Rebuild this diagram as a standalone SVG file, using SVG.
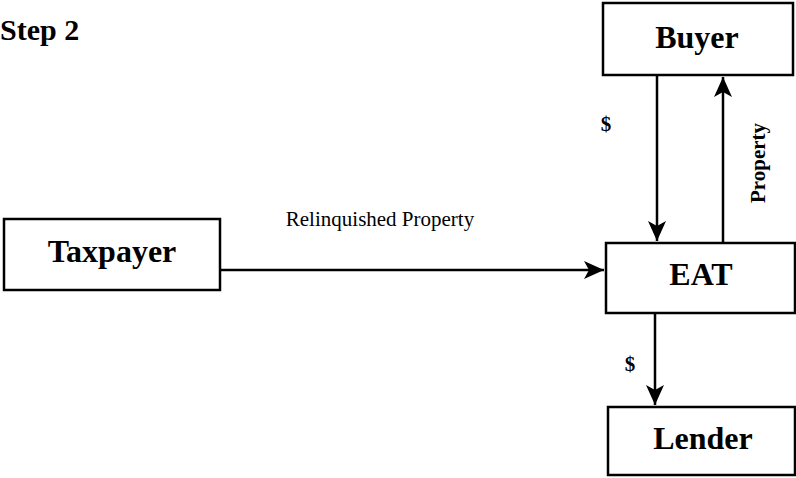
<svg xmlns="http://www.w3.org/2000/svg" width="796" height="478" viewBox="0 0 796 478">
<style>
.box{fill:#fff;stroke:#000;stroke-width:2.5}
.lbl{font-family:"Liberation Serif",serif;font-weight:bold;font-size:32px;text-anchor:middle}
.small{font-family:"Liberation Serif",serif;font-weight:bold;font-size:21px;text-anchor:middle}
.conn{stroke:#000;stroke-width:2.5;fill:none;marker-end:url(#ah)}
</style>
<defs>
<marker id="ah" markerUnits="userSpaceOnUse" markerWidth="22" markerHeight="22" viewBox="0 0 22 22" refX="20" refY="11" orient="auto">
<path d="M0,2 L20,11 L0,20 L5,11 Z" fill="#000"/>
</marker>
</defs>
<rect width="796" height="478" fill="#fff"/>
<text x="0" y="40" font-family="Liberation Serif, serif" font-weight="bold" font-size="30">Step 2</text>
<g id="buyer"><rect class="box" x="603" y="3" width="190" height="72"/><text class="lbl" x="697" y="48">Buyer</text></g>
<g id="taxpayer"><rect class="box" x="4" y="219" width="216" height="71"/><text class="lbl" x="112" y="262">Taxpayer</text></g>
<g id="eat"><rect class="box" x="606" y="243" width="189" height="70"/><text class="lbl" x="701" y="285">EAT</text></g>
<g id="lender"><rect class="box" x="608" y="407" width="187" height="68"/><text class="lbl" x="703" y="449">Lender</text></g>
<g id="connectors">
<line class="conn" x1="657" y1="75" x2="657" y2="241"/>
<line class="conn" x1="723" y1="243" x2="723" y2="77"/>
<line class="conn" x1="220" y1="270" x2="604" y2="270"/>
<line class="conn" x1="655" y1="313" x2="655" y2="405"/>
<text class="small" x="606" y="131">$</text>
<text class="small" x="0" y="0" font-size="23" transform="translate(765,163) rotate(-90)">Property</text>
<text x="380" y="226" font-family="Liberation Serif, serif" font-size="21" text-anchor="middle">Relinquished Property</text>
<text class="small" x="630" y="371">$</text>
</g>
</svg>
